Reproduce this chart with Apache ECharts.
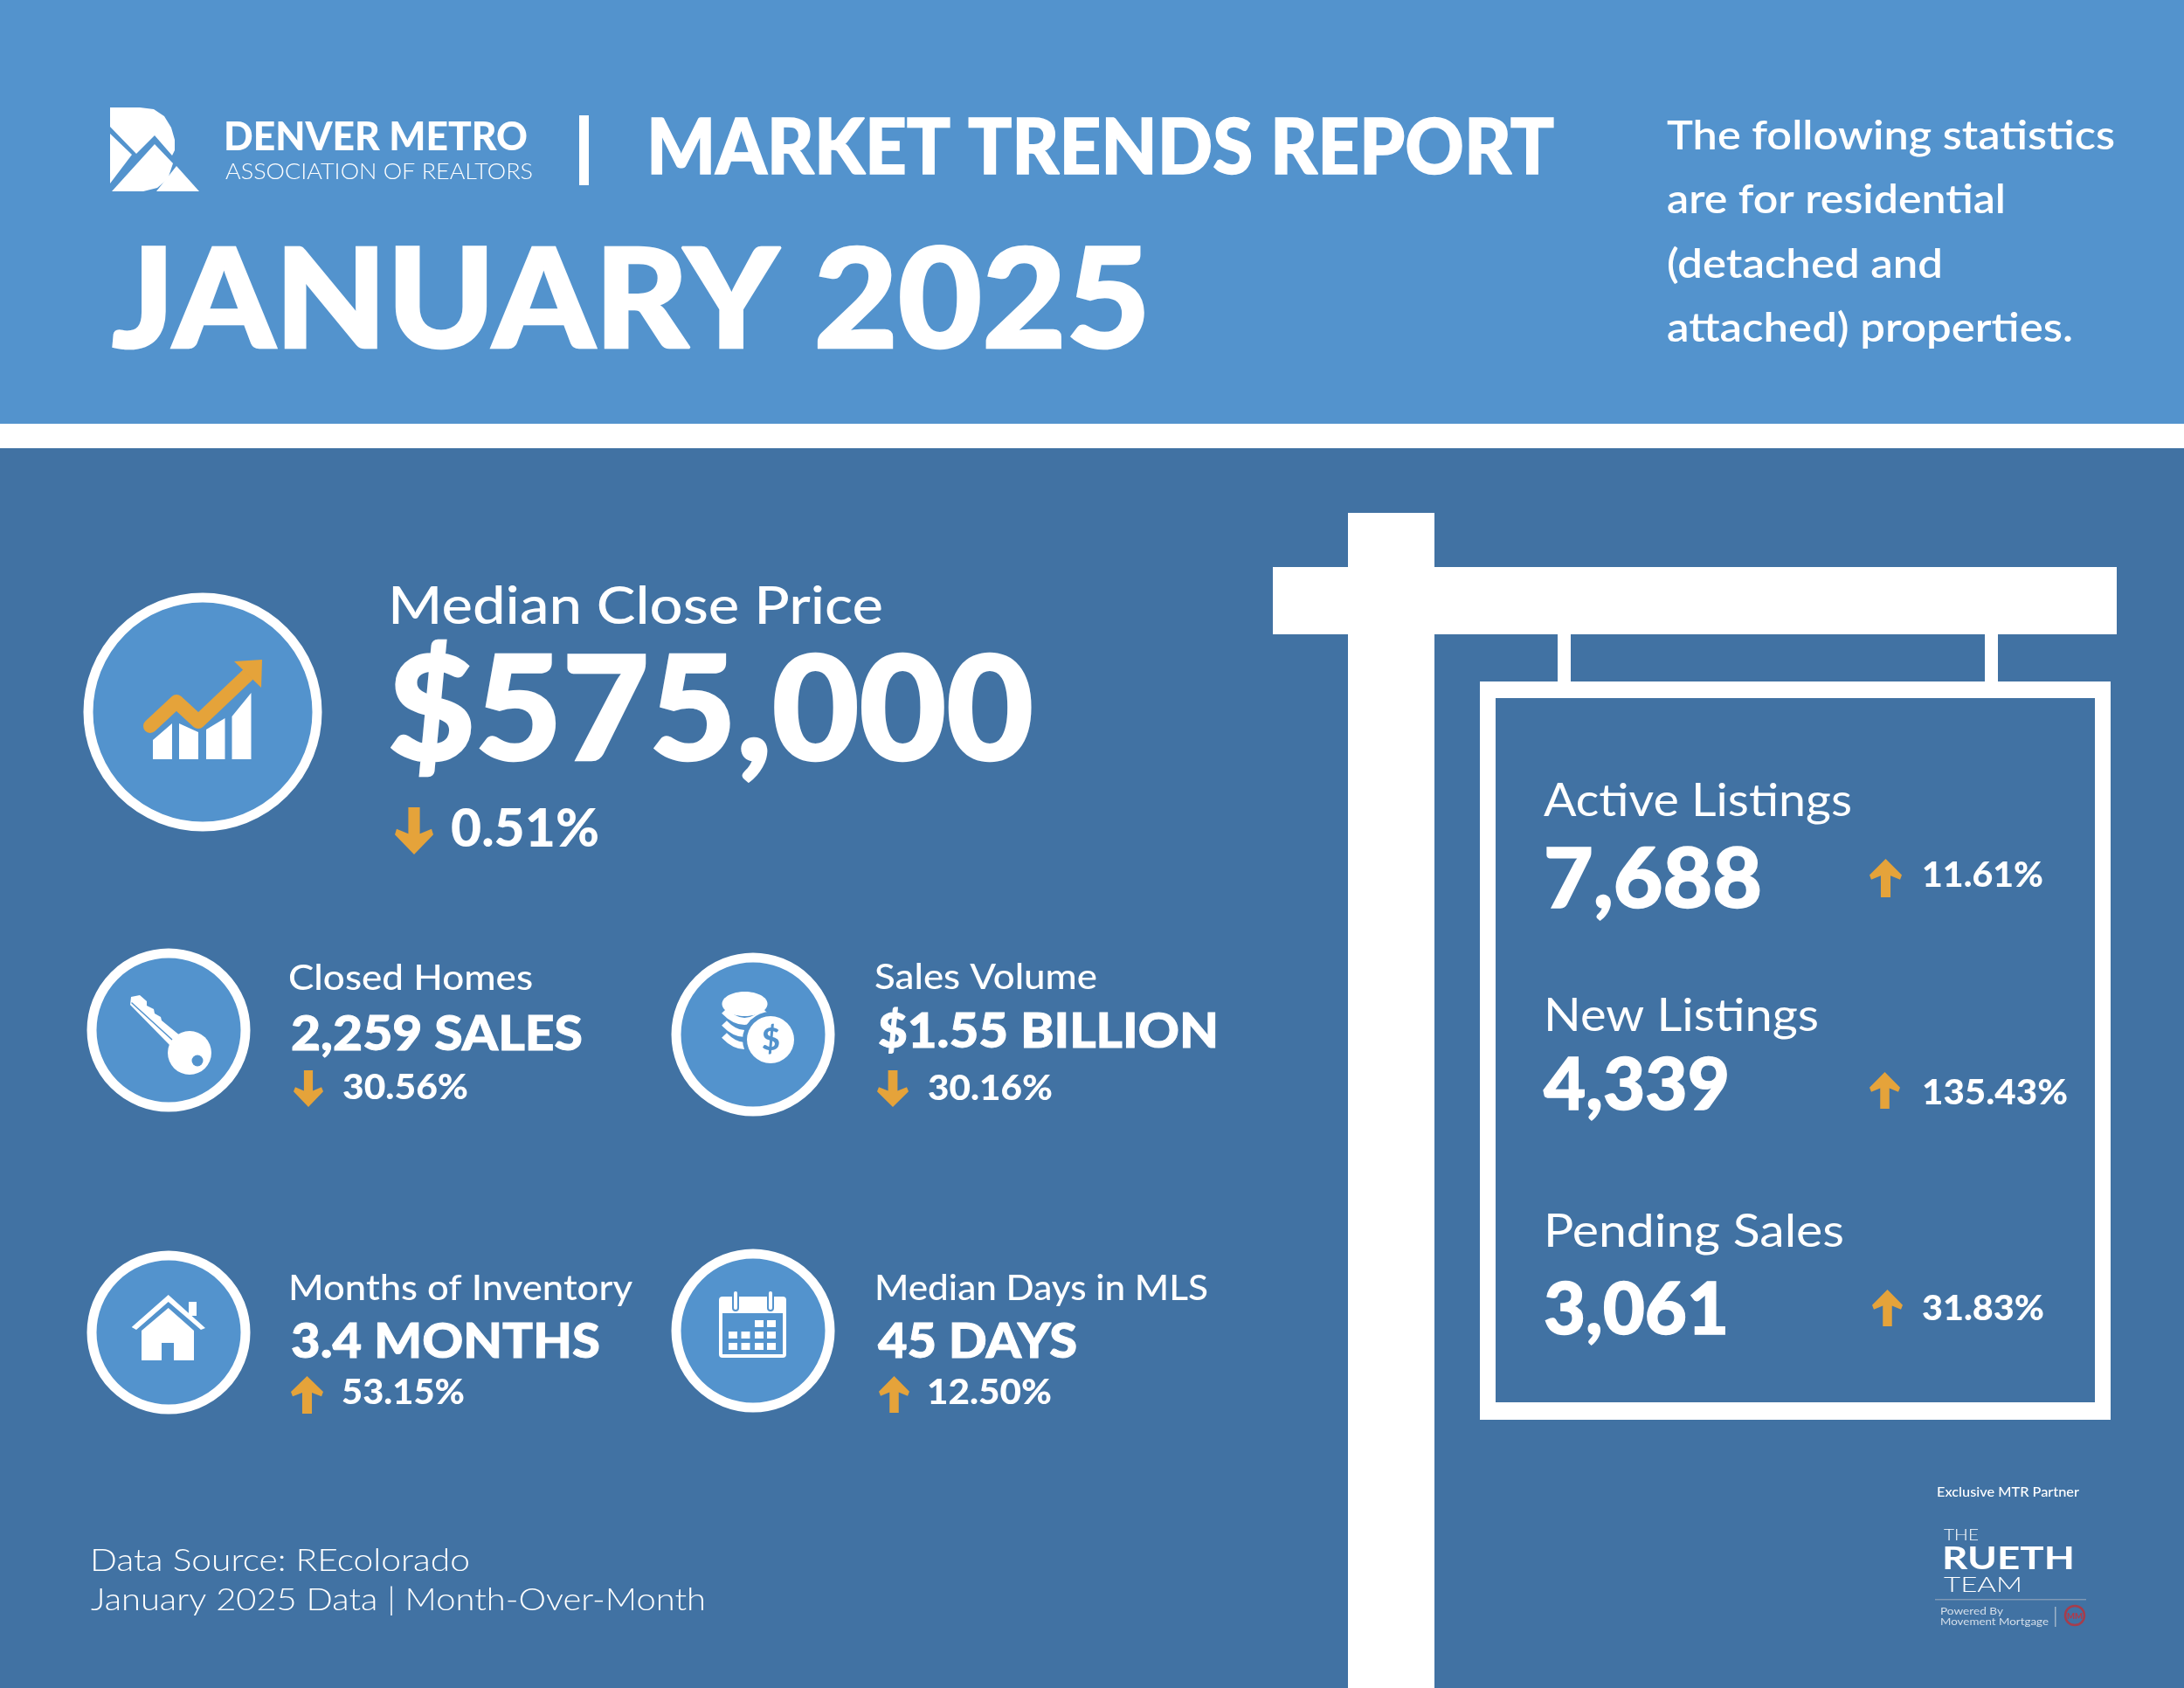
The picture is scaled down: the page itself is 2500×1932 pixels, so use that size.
<!DOCTYPE html>
<html>
<head>
<meta charset="utf-8">
<title>Market Trends Report</title>
<script src="https://cdn.jsdelivr.net/npm/echarts@6/dist/echarts.min.js"></script>
<style>
    html, body { margin: 0; padding: 0; background: #4172a3; }
    #chart { width: 2500px; height: 1932px; }
</style>
</head>
<body>
<div id="chart"></div>
<script>
// report texts
var orgName = 'DENVER METRO';
var orgSub = 'ASSOCIATION OF REALTORS';
var reportName = 'MARKET TRENDS REPORT';
var reportMonth = 'JANUARY 2025';
var introLines = ['The following statistics', 'are for residential', '(detached and', 'attached) properties.'];
var sourceLines = ['Data Source: REcolorado', 'January 2025 Data | Month-Over-Month'];

// left metrics
var metricNames = ['Median Close Price', 'Closed Homes', 'Sales Volume', 'Months of Inventory', 'Median Days in MLS'];
var metricValues = ['$575,000', '2,259 SALES', '$1.55 BILLION', '3.4 MONTHS', '45 DAYS'];
var metricChanges = ['0.51%', '30.56%', '30.16%', '53.15%', '12.50%'];
var metricTrends = ['down', 'down', 'down', 'up', 'up'];

// metrics on the sign
var signNames = ['Active Listings', 'New Listings', 'Pending Sales'];
var signValues = ['7,688', '4,339', '3,061'];
var signChanges = ['11.61%', '135.43%', '31.83%'];
var signTrends = ['up', 'up', 'up'];

// partner block
var partnerTitle = 'Exclusive MTR Partner';
var partnerLines = ['THE', 'RUETH', 'TEAM'];
var partnerPowered = ['Powered By', 'Movement Mortgage'];

var HEADER = '#5393cd';
var BODY = '#4172a3';
var WHITE = '#ffffff';
var ORANGE = '#e5a33a';
var FONT = 'Lato';

// [x, baseline, width, size] for name, value, change; [x0, y0, x1, y1] for the arrow
var metricLayout = [
    {name: [444, 714, 567, 60], value: [444, 870, 739, 165], change: [516, 969, 170, 60], arrow: [452, 924, 496, 978]},
    {name: [330, 1133, 280, 40], value: [333, 1202, 334, 55], change: [392, 1258, 144, 40], arrow: [336, 1225, 370, 1267]},
    {name: [1001, 1132, 255, 40], value: [1005, 1199, 390, 55], change: [1062, 1259, 143, 40], arrow: [1004, 1225, 1040, 1267]},
    {name: [330, 1488, 394, 40], value: [333, 1554, 354, 55], change: [391, 1607, 141, 40], arrow: [333, 1575, 370, 1618]},
    {name: [1001, 1488, 382, 40], value: [1005, 1554, 228, 55], change: [1061, 1607, 143, 40], arrow: [1006, 1575, 1041, 1617]}
];
var signLayout = [
    {name: [1767, 934, 353, 52], value: [1767, 1039, 250, 95], change: [2200, 1015, 139, 40], arrow: [2140, 983, 2177, 1027]},
    {name: [1767, 1180, 315, 52], value: [1767, 1270, 213, 82], change: [2200, 1264, 167, 40], arrow: [2140, 1227, 2175, 1269]},
    {name: [1767, 1427, 344, 52], value: [1767, 1527, 212, 82], change: [2200, 1511, 140, 40], arrow: [2143, 1476, 2178, 1518]}
];

var children = [];
var measureCtx = document.createElement('canvas').getContext('2d');

function rect(x, y, w, h, fill, r) {
    children.push({type: 'rect', shape: {x: x, y: y, width: w, height: h, r: r || 0}, style: {fill: fill}});
}

function circle(cx, cy, r, fill, stroke, lineWidth) {
    children.push({
        type: 'circle',
        shape: {cx: cx, cy: cy, r: r},
        style: {fill: fill, stroke: stroke || null, lineWidth: lineWidth || 0}
    });
}

function polygon(points, fill) {
    children.push({type: 'polygon', shape: {points: points}, style: {fill: fill}});
}

function polyline(points, color, lineWidth) {
    children.push({
        type: 'polyline',
        shape: {points: points},
        style: {stroke: color, lineWidth: lineWidth, fill: null, lineCap: 'round', lineJoin: 'round'}
    });
}

/**
 * Text placed by its baseline, stretched to the width
 */
function text(str, x, baseline, width, size, weight, fill, thicken) {
    var font = weight + ' ' + size + 'px ' + FONT;
    measureCtx.font = font;
    var natural = measureCtx.measureText(str).width;
    var sx = width ? width / natural : 1;
    children.push({
        type: 'text',
        x: x,
        y: baseline - size * 0.32,
        originX: 0,
        originY: 0,
        scaleX: sx,
        style: {
            text: str,
            x: 0,
            y: 0,
            fill: fill || WHITE,
            stroke: thicken ? (fill || WHITE) : null,
            lineWidth: thicken ? size * thicken : 0,
            fontFamily: FONT,
            fontSize: size,
            fontWeight: weight,
            align: 'left',
            verticalAlign: 'middle'
        }
    });
}

function arrow(box, trend) {
    var x0 = box[0], y0 = box[1], x1 = box[2], y1 = box[3];
    var mid = (x0 + x1) / 2;
    var half = (x1 - x0) * 0.15;
    var h = y1 - y0;
    if (trend == 'down') {
        polygon([[mid - half, y0], [mid + half, y0], [mid + half, y0 + h * 0.56], [x1 - 2, y0 + h * 0.46],
            [x1, y0 + h * 0.58], [mid, y1], [x0, y0 + h * 0.58], [x0 + 2, y0 + h * 0.46], [mid - half, y0 + h * 0.56]], ORANGE);
    } else {
        polygon([[mid - half, y1], [mid + half, y1], [mid + half, y0 + h * 0.44], [x1 - 2, y0 + h * 0.54],
            [x1, y0 + h * 0.42], [mid, y0], [x0, y0 + h * 0.42], [x0 + 2, y0 + h * 0.54], [mid - half, y0 + h * 0.44]], ORANGE);
    }
}

function drawLogo() {
    polygon([[126, 123], [160, 123], [176, 125], [188, 133], [196, 146], [200, 160], [200, 172], [197, 178],
        [177, 155], [156, 176], [126, 145]], WHITE);
    polygon([[126, 153], [151, 177], [126, 210]], WHITE);
    polygon([[177, 165], [198, 187], [192, 205], [180, 215], [164, 219], [128, 219]], WHITE);
    polygon([[202, 190], [228, 219], [179, 219]], WHITE);
}

function drawChartIcon() {
    polygon([[175, 869], [175, 847], [197, 828], [197, 869]], WHITE);
    polygon([[205, 869], [205, 828], [227, 838], [227, 869]], WHITE);
    polygon([[236, 869], [236, 835], [257.5, 822], [257.5, 869]], WHITE);
    polygon([[265.5, 869], [265.5, 820], [287.5, 793], [287.5, 869]], WHITE);
    polyline([[172, 831], [202, 803], [227, 826], [284, 772]], ORANGE, 16);
    polygon([[268, 757], [300, 755], [299, 787]], ORANGE);
}

function drawKeyIcon() {
    polygon([[150, 1141], [160, 1139], [168, 1146], [168, 1151], [176, 1155], [177, 1160], [184, 1164], [185, 1168],
        [207, 1186], [195, 1197], [149, 1150]], WHITE);
    polyline([[151, 1148], [197, 1190]], HEADER, 1.5);
    circle(217, 1205, 25, WHITE);
    circle(226, 1214, 6.5, HEADER);
}

function drawCoinIcon() {
    var stack = [1157, 1171, 1185];
    for (var i = 0; i < stack.length; i++) {
        children.push({
            type: 'bezierCurve',
            shape: {x1: 829, y1: stack[i], x2: 876, y2: stack[i], cpx1: 852, cpy1: stack[i] + 24},
            style: {stroke: WHITE, lineWidth: 8, fill: null}
        });
    }
    children.push({type: 'ellipse', shape: {cx: 852.5, cy: 1149, rx: 26, ry: 14}, style: {fill: WHITE}});
    circle(882, 1190, 32, HEADER);
    circle(882, 1190, 27, WHITE);
    text('$', 872, 1202, 0, 36, 900, HEADER);
}

function drawHouseIcon() {
    rect(216, 1490, 9, 16, WHITE);
    polygon([[192.7, 1482], [235, 1520], [230, 1522], [192.7, 1490], [156, 1522], [150.7, 1519]], WHITE);
    polygon([[192.7, 1497], [222, 1523], [222, 1557], [162, 1557], [162, 1523]], WHITE);
    rect(185, 1537, 14, 20, HEADER);
}

function drawCalendarIcon() {
    var cols = [834, 848.5, 864, 878];
    var rows = [1511, 1524, 1537];
    rect(823, 1484, 77, 70, WHITE, 4);
    rect(827, 1503, 69, 47, HEADER);
    for (var r = 0; r < rows.length; r++) {
        for (var c = 0; c < cols.length; c++) {
            if (r == 0 && c < 2) {
                continue;
            }
            rect(cols[c], rows[r], 10, 8, WHITE);
        }
    }
    rect(838, 1476, 8, 25, HEADER, 4);
    rect(878, 1476, 8, 25, HEADER, 4);
    rect(840, 1478, 4, 21, WHITE, 2);
    rect(880, 1478, 4, 21, WHITE, 2);
}

function drawHeader() {
    rect(0, 0, 2500, 485, HEADER);
    rect(0, 485, 2500, 28, WHITE);
    rect(0, 513, 2500, 1419, BODY);

    drawLogo();
    text(orgName, 256, 172, 348, 46, 900);
    text(orgSub, 258, 205, 352, 25, 300);
    rect(663, 132, 11, 80, WHITE);
    text(reportName, 740, 199, 1039, 88, 900, WHITE, 0.016);
    text(reportMonth, 128, 398, 1189, 158, 900, WHITE, 0.016);

    var introWidths = [513, 388, 316, 465];
    var introBase = [171, 244, 318, 391];
    for (var i = 0; i < introLines.length; i++) {
        text(introLines[i], 1908, introBase[i], introWidths[i], 46, 600);
    }
}

function drawMetrics() {
    var icons = [[232, 815, 131], [193, 1179, 88], [862, 1184, 88], [193, 1525, 88], [862, 1523, 88]];
    for (var i = 0; i < metricNames.length; i++) {
        var box = metricLayout[i];
        circle(icons[i][0], icons[i][1], icons[i][2], HEADER, WHITE, 11);
        text(metricNames[i], box.name[0], box.name[1], box.name[2], box.name[3], 500);
        text(metricValues[i], box.value[0], box.value[1], box.value[2], box.value[3], 900, WHITE, 0.016);
        text(metricChanges[i], box.change[0], box.change[1], box.change[2], box.change[3], 900);
        arrow(box.arrow, metricTrends[i]);
    }
    drawChartIcon();
    drawKeyIcon();
    drawCoinIcon();
    drawHouseIcon();
    drawCalendarIcon();
}

function drawSign() {
    rect(1543, 587, 99, 1345, WHITE);
    rect(1457, 649, 966, 77, WHITE);
    rect(1783, 726, 15, 54, WHITE);
    rect(2272, 726, 15, 54, WHITE);
    rect(1694, 780, 722, 845, WHITE);
    rect(1712, 799, 686, 806, BODY);

    for (var i = 0; i < signNames.length; i++) {
        var box = signLayout[i];
        text(signNames[i], box.name[0], box.name[1], box.name[2], box.name[3], 400);
        text(signValues[i], box.value[0], box.value[1], box.value[2], box.value[3], 900, WHITE, 0.016);
        text(signChanges[i], box.change[0], box.change[1], box.change[2], box.change[3], 900);
        arrow(box.arrow, signTrends[i]);
    }
}

function drawFooter() {
    text(sourceLines[0], 103, 1798, 435, 36, 300);
    text(sourceLines[1], 104, 1843, 704, 36, 300);

    text(partnerTitle, 2217, 1713, 163, 16, 500);
    text(partnerLines[0], 2225, 1763, 40, 17, 300);
    text(partnerLines[1], 2223, 1796, 152, 36, 700);
    text(partnerLines[2], 2225, 1822, 90, 23, 300);
    rect(2215, 1830, 173, 1.5, '#7f98b5');
    text(partnerPowered[0], 2221, 1848, 72, 12, 400, '#d5dfea');
    text(partnerPowered[1], 2221, 1860, 124, 12, 400, '#d5dfea');
    rect(2352, 1839, 1.5, 23, '#9fb3c8');
    circle(2375, 1849, 11, '#4172a3', '#a63d4c', 2.5);
    text('MM', 2366, 1853, 18, 10, 900, '#b23a4a');
}

drawHeader();
drawMetrics();
drawSign();
drawFooter();

var myChart = echarts.init(document.getElementById('chart'), null, {renderer: 'canvas'});
myChart.setOption({
    animation: false,
    backgroundColor: BODY,
    graphic: {elements: children}
});
</script>
</body>
</html>
